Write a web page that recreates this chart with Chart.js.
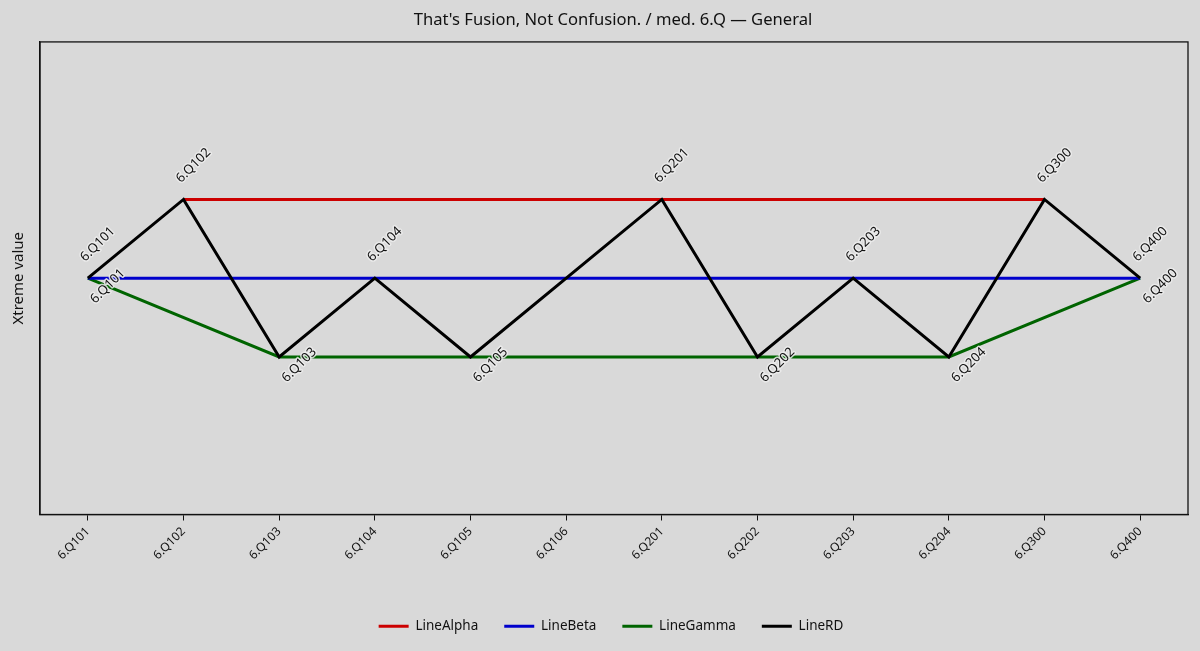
<!DOCTYPE html>
<html>
<head>
<meta charset="utf-8">
<script src="https://cdn.jsdelivr.net/npm/chart.js@4.4.1/dist/chart.umd.min.js"></script>
<style>
  html, body { margin: 0; padding: 0; background: #d9d9d9; }
  #wrap { width: 1200px; height: 651px; }
</style>
</head>
<body>
<div id="wrap"><canvas id="myChart"></canvas></div>
<script>
const categories = ["6.Q101", "6.Q102", "6.Q103", "6.Q104", "6.Q105", "6.Q106",
  "6.Q201", "6.Q202", "6.Q203", "6.Q204", "6.Q300", "6.Q400"];
const lineAlpha = [null, 1, null, null, null, null, 1, null, null, null, 1, null];
const lineBeta = [0, null, null, 0, null, null, null, null, 0, null, null, 0];
const lineGamma = [0, null, -1, null, -1, null, null, -1, null, -1, null, 0];
const lineRD = [0, 1, -1, 0, -1, null, 1, -1, 0, -1, 1, 0];

const fontName = "'Noto Sans', sans-serif";
const ink = "#111111";

// point names: above for Alpha/Beta, below for Gamma
const pointLabels = {
  id: "pointLabels",
  afterDatasetsDraw(chart) {
    const ctx = chart.ctx;
    ctx.save();
    ctx.font = "13px " + fontName;
    ctx.textAlign = "center";
    ctx.textBaseline = "middle";
    ctx.lineJoin = "round";
    [[0, 10, -34], [1, 10, -34], [2, 20, 8]].forEach(([di, dx, dy]) => {
      const meta = chart.getDatasetMeta(di);
      meta.data.forEach((pt, i) => {
        if (chart.data.datasets[di].data[i] === null) return;
        ctx.save();
        ctx.translate(pt.x + dx, pt.y + dy);
        ctx.rotate(-Math.PI / 4);
        ctx.strokeStyle = "rgba(236,236,236,0.85)";
        ctx.lineWidth = 3;
        ctx.strokeText(categories[i], 0, 0);
        ctx.fillStyle = ink;
        ctx.fillText(categories[i], 0, 0);
        ctx.restore();
      });
    });
    ctx.restore();
  }
};

const frameBox = {
  id: "frameBox",
  afterLayout(chart) {
    // title and legend sit centred over the plot, not the canvas
    chart.legend.left += 14;
    chart.legend.right += 14;
    chart.titleBlock.left += 16;
    chart.titleBlock.right += 16;
  },
  afterDraw(chart) {
    const a = chart.chartArea;
    const ctx = chart.ctx;
    ctx.save();
    ctx.strokeStyle = ink;
    ctx.lineWidth = 1.3;
    ctx.strokeRect(a.left, a.top, a.right - a.left, a.bottom - a.top);
    ctx.restore();
  }
};

function mkSet(label, data, color) {
  return {
    label: label,
    data: data,
    borderColor: color,
    backgroundColor: color,
    borderWidth: 3,
    pointRadius: 0,
    pointHoverRadius: 0,
    spanGaps: true,
    tension: 0
  };
}

const ctx = document.getElementById("myChart").getContext("2d");
const myChart = new Chart(ctx, {
  type: "line",
  data: {
    labels: categories,
    datasets: [
      mkSet("LineAlpha", lineAlpha, "#cc0000"),
      mkSet("LineBeta", lineBeta, "#0000cc"),
      mkSet("LineGamma", lineGamma, "#006400"),
      Object.assign(mkSet("LineRD", lineRD, "#000000"), { order: -1 })
    ]
  },
  options: {
    responsive: true,
    maintainAspectRatio: false,
    animation: false,
    layout: { padding: { left: 6, right: 12, top: 4, bottom: 8 } },
    plugins: {
      title: {
        display: true,
        text: "That's Fusion, Not Confusion. / med. 6.Q — General",
        color: ink,
        font: { family: fontName, size: 16.6, weight: "normal" },
        padding: { top: 6, bottom: 12 }
      },
      legend: {
        position: "bottom",
        labels: {
          color: ink,
          font: { family: fontName, size: 13.5 },
          usePointStyle: true,
          pointStyle: "line",
          pointStyleWidth: 30,
          padding: 26,
          sort: (a, b) => a.datasetIndex - b.datasetIndex
        }
      },
      tooltip: { enabled: false }
    },
    scales: {
      x: {
        offset: true,
        afterFit(scale) { scale.height = 79; },
        grid: { display: true, drawOnChartArea: false, drawTicks: true, tickLength: 6, color: ink },
        border: { display: true, color: ink, width: 1.3 },
        ticks: {
          color: ink,
          font: { family: fontName, size: 12 },
          maxRotation: 45,
          minRotation: 45,
          autoSkip: false,
          padding: 4
        }
      },
      y: {
        min: -3,
        max: 3,
        grid: { display: false },
        border: { display: true, color: ink, width: 1.3 },
        ticks: { display: false },
        title: {
          display: true,
          text: "Xtreme value",
          color: ink,
          font: { family: fontName, size: 15 },
          padding: 4
        }
      }
    }
  },
  plugins: [pointLabels, frameBox]
});
</script>
</body>
</html>
